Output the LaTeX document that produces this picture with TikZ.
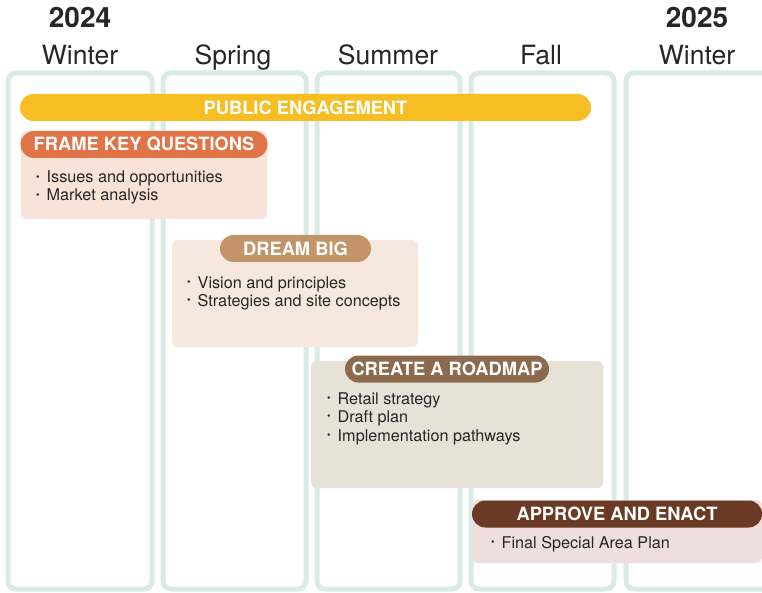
\documentclass[tikz,border=0pt]{standalone}
\usepackage{fontspec}
\setmainfont{TeX Gyre Heros}

\definecolor{frameteal}{HTML}{DAEBE6}
\definecolor{engageyellow}{HTML}{F6BE22}
\definecolor{frameorange}{HTML}{E07447}
\definecolor{framebody}{HTML}{F9E3D9}
\definecolor{dreamtan}{HTML}{C29468}
\definecolor{dreambody}{HTML}{F6E8DE}
\definecolor{roadbrown}{HTML}{8C6A4D}
\definecolor{roadbody}{HTML}{E8E1D7}
\definecolor{enactbrown}{HTML}{6B3A24}
\definecolor{enactbody}{HTML}{EEDFDC}
\definecolor{inktext}{HTML}{262626}

\newcommand{\bul}{\makebox[10.5pt][l]{\raisebox{0.25ex}{\scalebox{0.62}{\textbullet}}}}

\tikzset{
  season/.style={anchor=base, text=inktext, font=\fontsize{26.5}{26.5}\selectfont},
  year/.style={anchor=base, text=inktext, font=\bfseries\fontsize{28}{28}\selectfont},
  column/.style={draw=frameteal, line width=5pt, rounded corners=8pt},
  pill/.style={rounded corners=13.5pt, minimum height=27pt, inner sep=0pt,
    text=white, font=\bfseries\fontsize{18.3}{18.3}\selectfont},
  item/.style={anchor=base west, inner sep=0pt, text=inktext,
    font=\fontsize{16.2}{16.2}\selectfont},
}

\begin{document}
\begin{tikzpicture}[x=1pt, y=-1pt]
        \clip (0,0) rectangle (762,593);
        \fill[white] (0,0) rectangle (762,593);

        % years and seasons
        \node[year] (y2024) at (80,28) {2024};
        \node[year] (y2025) at (697,28) {2025};
        \node[season] (winterA) at (80,65) {Winter};
        \node[season] (spring) at (233,65) {Spring};
        \node[season] (summer) at (388,65) {Summer};
        \node[season] (fall) at (541,65) {Fall};
        \node[season] (winterB) at (697,65) {Winter};

        % columns
        \draw[column] (8,73) rectangle (152,589);
        \draw[column] (163,73) rectangle (306,589);
        \draw[column] (317,73) rectangle (460,589);
        \draw[column] (471,73) rectangle (614,589);
        \draw[column] (626,73) rectangle (780,589);

        % public engagement
        \node[pill, fill=engageyellow, minimum width=571pt] (engage) at (305.5,107.5) {PUBLIC ENGAGEMENT};

        % frame key questions
        \fill[framebody, rounded corners=6pt] (21,131) rectangle (267,219);
        \node[pill, fill=frameorange, minimum width=247pt] (frameHead) at (144,144.5) {FRAME KEY QUESTIONS};
        \node[item] (frameA) at (36,183) {\bul Issues and opportunities};
        \node[item] (frameB) at (36,201) {\bul Market analysis};

        % dream big
        \fill[dreambody, rounded corners=6pt] (172,240) rectangle (418,347);
        \node[pill, fill=dreamtan, minimum width=151pt] (dreamHead) at (295.5,248.5) {DREAM BIG};
        \node[item] (dreamA) at (187,288) {\bul Vision and principles};
        \node[item] (dreamB) at (187,306) {\bul Strategies and site concepts};

        % create a roadmap
        \fill[roadbody, rounded corners=6pt] (311,361) rectangle (603,488);
        \node[pill, fill=roadbrown, minimum width=204pt] (roadHead) at (447,369) {CREATE A ROADMAP};
        \node[item] (roadA) at (327,404) {\bul Retail strategy};
        \node[item] (roadB) at (327,422) {\bul Draft plan};
        \node[item] (roadC) at (327,441) {\bul Implementation pathways};

        % approve and enact
        \fill[enactbody, rounded corners=6pt] (472,500) rectangle (762,563);
        \node[pill, fill=enactbrown, minimum width=290pt] (enactHead) at (617,514) {APPROVE AND ENACT};
        \node[item] (enactA) at (491,548) {\bul Final Special Area Plan};
\end{tikzpicture}
\end{document}
